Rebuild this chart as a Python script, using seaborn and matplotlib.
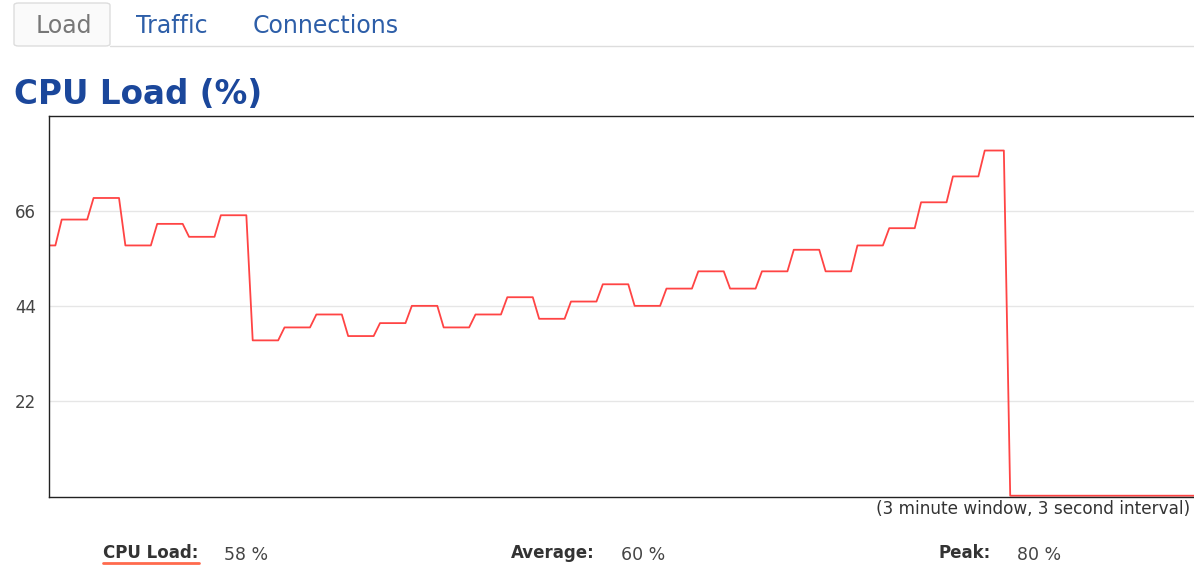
import numpy as np
import pandas as pd
import matplotlib
matplotlib.use("Agg")
import matplotlib.pyplot as plt
from matplotlib.lines import Line2D
from matplotlib.patches import FancyBboxPatch
import seaborn as sns

# CPU load levels (%), each held for 5 one-second samples
first_level = 58
levels = [64, 69, 58, 63, 60, 65, 36, 39, 42, 37, 40, 44, 39, 42, 46,
          41, 45, 49, 44, 48, 52, 48, 52, 57, 52, 58, 62, 68, 74]
last_level = 80
hold = 5
window = 180
y_ticks = [22, 44, 66]
tabs = ["Load", "Traffic", "Connections"]
stats = [("CPU Load:", "58 %"), ("Average:", "60 %"), ("Peak:", "80 %")]

samples = [first_level] * 2 + list(np.repeat(levels, hold)) + [last_level] * (hold - 1)
samples = samples + [0] * (window + 1 - len(samples))
df = pd.DataFrame({"t": np.arange(len(samples)), "load": samples})

W, H = 1194, 565
sns.set_style("white")
plt.rcParams["font.family"] = ["DejaVu Sans"]
fig = plt.figure(figsize=(W / 100, H / 100), dpi=100)

def fx(px):
    return px / W

def fy(py):
    return 1 - py / H

ax = fig.add_axes([fx(49), fy(497), (1198 - 49) / W, (497 - 116) / H])
line_color = "#ff4444"
sns.lineplot(data=df, x="t", y="load", ax=ax, color=line_color, linewidth=1.3)
ax.vlines(df["t"].iloc[0], 0, df["load"].iloc[0], color=line_color, linewidth=1.3)

ax.set_xlim(0, window + 0.5)
ax.set_ylim(-0.3, 88)
ax.set_yticks(y_ticks)
ax.set_yticklabels([str(v) for v in y_ticks], fontsize=12, color="#444444")
ax.set_xticks([])
ax.set_xlabel("")
ax.set_ylabel("")
ax.tick_params(axis="y", length=0, pad=9.5)
ax.grid(axis="y", color="#e6e6e6", linewidth=1)
for s in ax.spines.values():
    s.set_color("#222222")
    s.set_linewidth(1)

# tabs
tab_box = FancyBboxPatch((fx(14), fy(46)), fx(110) - fx(14), fy(3) - fy(46),
                         boxstyle="round,pad=0,rounding_size=0.004",
                         transform=fig.transFigure, facecolor="#fafafa",
                         edgecolor="#dddddd", linewidth=1)
fig.patches.append(tab_box)
fig.add_artist(Line2D([fx(110), fx(1194)], [fy(46), fy(46)],
                      transform=fig.transFigure, color="#dddddd", linewidth=1))
tab_x = [36, 136, 253]
for name, x in zip(tabs, tab_x):
    fig.text(fx(x), fy(26), name, fontsize=17, va="center", ha="left",
             color="#777777" if name == "Load" else "#2d5ea8")

fig.text(fx(14), fy(95), "CPU Load (%)", fontsize=23.5, fontweight="bold",
         color="#1b479b", va="center", ha="left")

fig.text(fx(1190), fy(509), "(3 minute window, 3 second interval)",
         fontsize=12.2, color="#333333", va="center", ha="right")

stat_x = [(103, 224), (511, 621), (939, 1017)]
for (label, val), (lx, vx) in zip(stats, stat_x):
    fig.text(fx(lx), fy(553), label, fontsize=12, fontweight="bold",
             color="#333333", va="center", ha="left")
    fig.text(fx(vx), fy(555), val, fontsize=12.5, color="#444444",
             va="center", ha="left")
fig.add_artist(Line2D([fx(103), fx(199)], [fy(563), fy(563)],
                      transform=fig.transFigure, color="#ff6a4d", linewidth=2))

fig.savefig("out.png", dpi=100)
